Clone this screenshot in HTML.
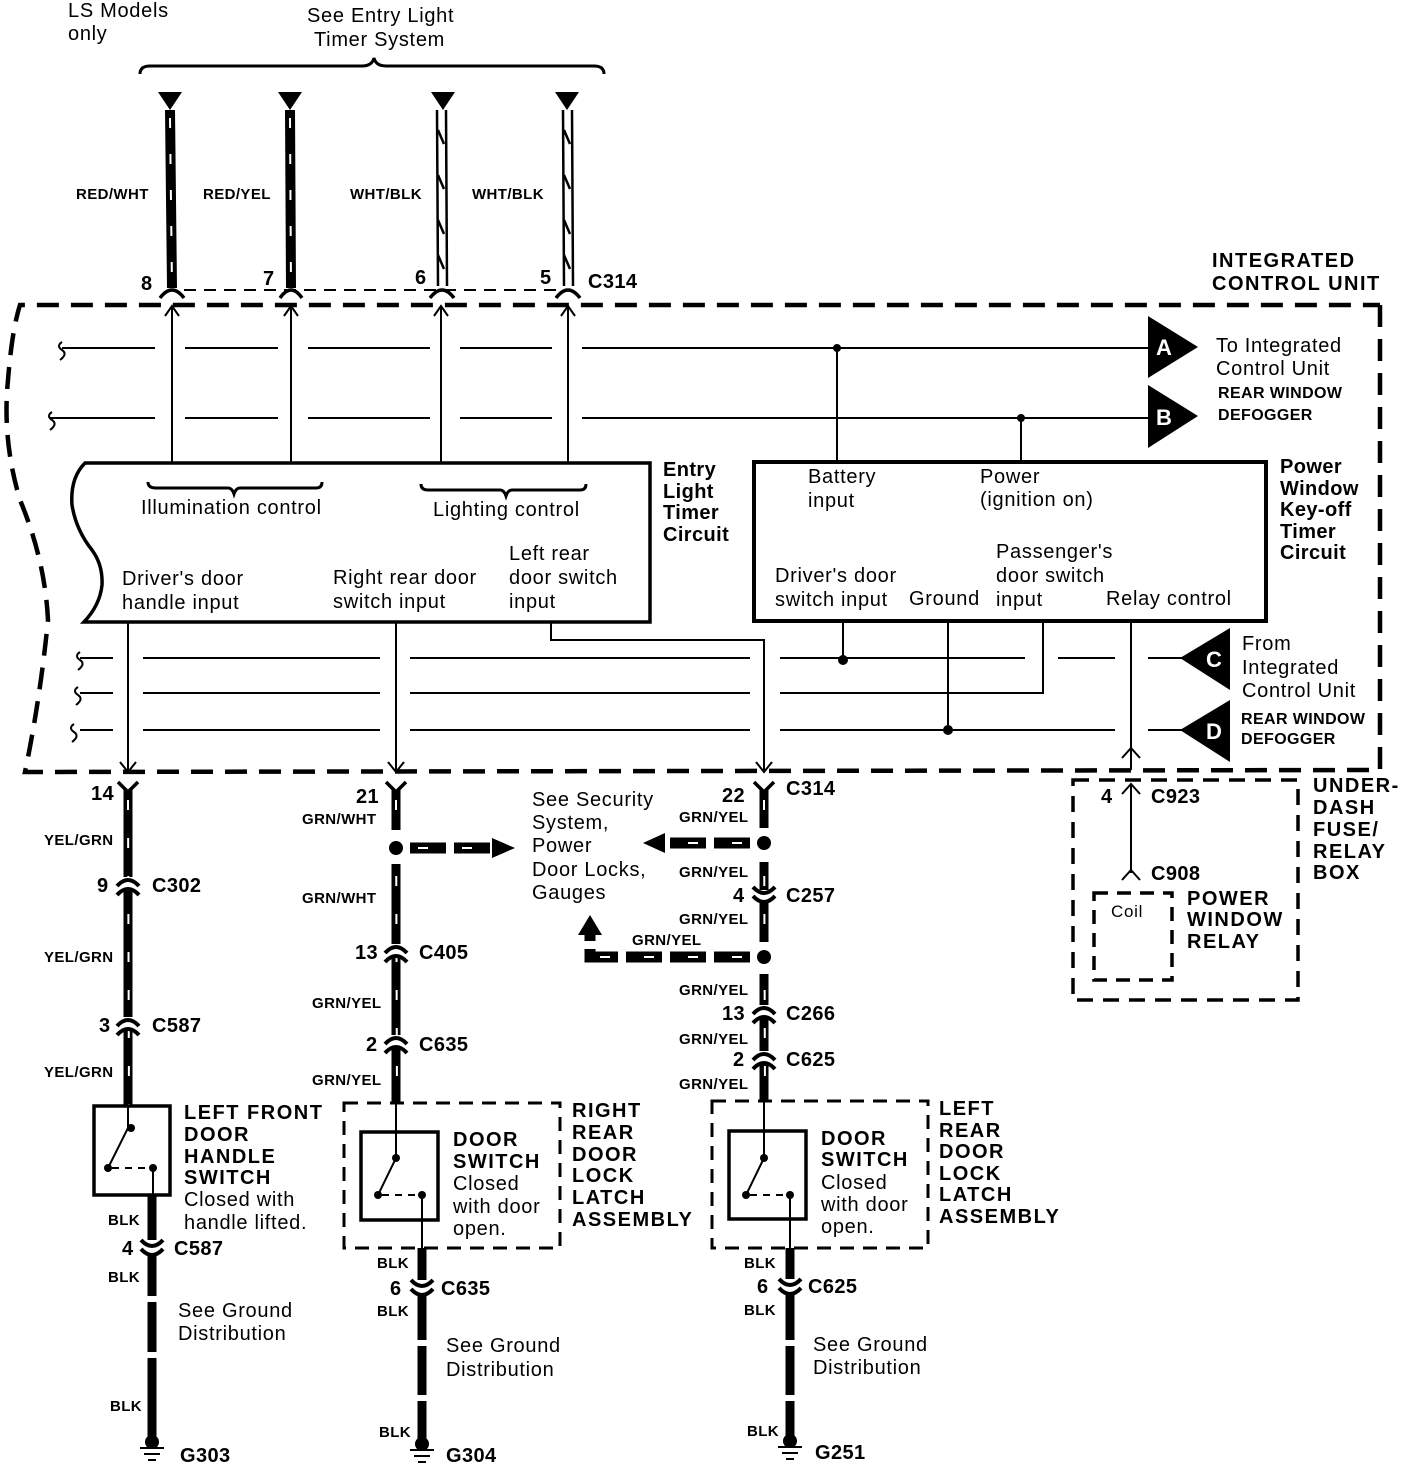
<!DOCTYPE html>
<html><head><meta charset="utf-8"><style>
html,body{margin:0;padding:0;background:#fff}
svg{display:block}
text{font-family:"Liberation Sans",sans-serif;fill:#000}
.r{font-size:20px;letter-spacing:0.7px}
.b{font-size:20px;font-weight:bold;letter-spacing:0.4px}
.w{font-size:15px;font-weight:bold;letter-spacing:0.4px}
.h{font-size:20px;font-weight:bold;letter-spacing:1.5px}
</style></head><body>
<svg width="1408" height="1470" viewBox="0 0 1408 1470" xmlns="http://www.w3.org/2000/svg">
<g fill="none" stroke="#000">
<path d="M140 74 Q140 66 150 66 L362 66 Q372 66 374 58 Q376 66 386 66 L594 66 Q604 66 604 74" stroke-width="3"/>
<line x1="170" y1="110" x2="172" y2="288" stroke-width="10"/>
<line x1="290" y1="110" x2="291" y2="288" stroke-width="10"/>
<line x1="170" y1="118" x2="172" y2="288" stroke="#fff" stroke-width="2" stroke-dasharray="10 26"/>
<line x1="290" y1="118" x2="291" y2="288" stroke="#fff" stroke-width="2" stroke-dasharray="10 26"/>
<path d="M437 110 L438 286 M446 110 L447 286 M563 110 L564 286 M572 110 L573 286" stroke-width="2.5"/>
<path d="M438 130 l6 14 M438 175 l6 14 M438 220 l6 14 M438 255 l6 14 M564 130 l6 14 M564 175 l6 14 M564 220 l6 14 M564 255 l6 14" stroke-width="2.5"/>
<path d="M160 298 Q172 282 184 298 M280 298 Q291 282 302 298 M430 298 Q442 282 454 298 M556 298 Q568 282 580 298" stroke-width="3.5"/>
<line x1="184" y1="290" x2="556" y2="290" stroke-width="2" stroke-dasharray="12 8"/>
<path d="M1380 305 L1380 770 L25 772 Q40 700 48 620 Q45 560 20 500 Q2 440 8 380 Q12 330 20 305 L1380 305" stroke-width="4.5" stroke-dasharray="22 12"/>
<path d="M62 348 H155 M185 348 H278 M308 348 H430 M460 348 H552 M582 348 H1150" stroke-width="2"/>
<path d="M50 418 H155 M185 418 H278 M308 418 H430 M460 418 H552 M582 418 H1150" stroke-width="2"/>
<path d="M62 342 q-6 4 0 8 q6 4 -2 10 M52 412 q-6 4 0 8 q6 4 -2 10" stroke-width="2"/>
<path d="M172 463 V307 M291 463 V307 M441 463 V307 M568 463 V307" stroke-width="2"/>
<path d="M165 316 L172 306 L179 316 M284 316 L291 306 L298 316 M434 316 L441 306 L448 316 M561 316 L568 306 L575 316" stroke-width="2"/>
<path d="M85 463 H650 V622 H84 Q100 605 102 585 Q103 565 92 550 Q76 530 72 505 Q70 478 85 463 Z" stroke-width="3.5"/>
<path d="M148 482 Q148 488 156 488 L228 488 Q232 488 234 494 Q236 488 240 488 L316 488 Q322 488 322 482" stroke-width="3"/>
<path d="M421 484 Q421 490 428 490 L500 490 Q504 490 506 496 Q508 490 512 490 L580 490 Q586 490 586 484" stroke-width="3"/>
<rect x="754" y="462" width="512" height="159" stroke-width="4"/>
<path d="M837 348 V462 M1021 418 V462" stroke-width="2"/>
<path d="M80 658 H113 M143 658 H380 M410 658 H750 M780 658 H1025 M1058 658 H1115 M1148 658 H1182" stroke-width="2"/>
<path d="M80 693 H113 M143 693 H380 M410 693 H750 M780 693 H1043 V622" stroke-width="2"/>
<path d="M80 730 H113 M143 730 H380 M410 730 H750 M780 730 H1115 M1148 730 H1182" stroke-width="2"/>
<path d="M80 652 q-6 4 0 8 q6 4 -2 10 M78 687 q-6 4 0 8 q6 4 -2 10 M74 724 q-6 4 0 8 q6 4 -2 10" stroke-width="2"/>
<path d="M843 622 V660 M948 622 V730 M1131 622 V770" stroke-width="2"/>
<path d="M1122 758 L1131 748 L1140 758" stroke-width="2"/>
<path d="M128 622 V770 M396 622 V770 M551 622 V640 H764 V770" stroke-width="2"/>
<path d="M120 762 L128 772 L136 762 M388 762 L396 772 L404 762 M756 762 L764 772 L772 762" stroke-width="2"/>
<path d="M118 782 L128 792 L138 782 M386 782 L396 792 L406 782 M754 782 L764 792 L774 782" stroke-width="3.5"/>
<line x1="128" y1="790" x2="128" y2="1105" stroke-width="9"/>
<line x1="128" y1="800" x2="129" y2="1105" stroke="#fff" stroke-width="2" stroke-dasharray="10 28"/>
<line x1="396" y1="790" x2="396" y2="1102" stroke-width="9"/>
<line x1="396" y1="800" x2="397" y2="1102" stroke="#fff" stroke-width="2" stroke-dasharray="10 28"/>
<line x1="764" y1="790" x2="764" y2="1100" stroke-width="9"/>
<line x1="764" y1="800" x2="765" y2="1100" stroke="#fff" stroke-width="2" stroke-dasharray="10 28"/>
</g>
<rect x="388" y="830" width="16" height="34" fill="#fff"/>
<rect x="756" y="828" width="16" height="34" fill="#fff"/>
<rect x="756" y="942" width="16" height="32" fill="#fff"/>
<g fill="#000">
<circle cx="396" cy="848" r="7"/><circle cx="764" cy="843" r="7"/><circle cx="764" cy="957" r="7"/>
<circle cx="837" cy="348" r="4"/><circle cx="1021" cy="418" r="4"/><circle cx="843" cy="660" r="5"/><circle cx="948" cy="730" r="5"/>
<polygon points="158,92 182,92 170,110"/><polygon points="278,92 302,92 290,110"/><polygon points="431,92 455,92 443,110"/><polygon points="555,92 579,92 567,110"/>
<polygon points="1148,316 1148,378 1198,347"/><polygon points="1148,385 1148,448 1198,416"/>
<polygon points="1230,628 1230,690 1180,658"/><polygon points="1230,700 1230,762 1180,730"/>
<polygon points="492,838 515,848 492,858"/><polygon points="665,833 643,843 665,853"/><polygon points="578,935 590,915 602,935"/>
</g>
<g fill="none" stroke="#000">
<path d="M410 848 H494 M750 843 H663 M750 957 H590 V933" stroke-width="11" stroke-dasharray="36 8"/>
<path d="M418 848 H494 M742 843 H663 M742 957 H600" stroke="#fff" stroke-width="2" stroke-dasharray="10 34"/>
</g>
<g fill="#fff"><rect x="118" y="877" width="20" height="12"/><rect x="118" y="1017" width="20" height="12"/>
<rect x="386" y="944" width="20" height="12"/><rect x="386" y="1035" width="20" height="12"/>
<rect x="754" y="890" width="20" height="12"/><rect x="754" y="1005" width="20" height="12"/><rect x="754" y="1051" width="20" height="12"/></g>
<g fill="none" stroke="#000" stroke-width="4">
<path d="M117 886 Q128 874 139 886 M117 895 Q128 883 139 895"/>
<path d="M117 1026 Q128 1014 139 1026 M117 1035 Q128 1023 139 1035"/>
<path d="M385 953 Q396 941 407 953 M385 962 Q396 950 407 962"/>
<path d="M385 1044 Q396 1032 407 1044 M385 1053 Q396 1041 407 1053"/>
<path d="M753 1014 Q764 1002 775 1014 M753 1023 Q764 1011 775 1023"/>
<path d="M753 1060 Q764 1048 775 1060 M753 1069 Q764 1057 775 1069"/>
<path d="M753 887 Q764 899 775 887 M753 896 Q764 908 775 896"/>
</g>
<g fill="none" stroke="#000">
<rect x="94" y="1106" width="76" height="89" stroke-width="3.5"/>
<path d="M128 1105 V1128 L108 1168 M153 1168 V1195" stroke-width="2"/>
<path d="M112 1168 H150" stroke-width="2" stroke-dasharray="7 6"/>
<rect x="344" y="1103" width="216" height="145" stroke-width="3" stroke-dasharray="14 9"/>
<rect x="361" y="1132" width="77" height="88" stroke-width="3.5"/>
<path d="M396 1102 V1158 L378 1195 M422 1195 V1248" stroke-width="2"/>
<path d="M382 1195 H420" stroke-width="2" stroke-dasharray="7 6"/>
<rect x="712" y="1101" width="216" height="147" stroke-width="3" stroke-dasharray="14 9"/>
<rect x="729" y="1131" width="77" height="88" stroke-width="3.5"/>
<path d="M764 1100 V1158 L746 1195 M790 1195 V1248" stroke-width="2"/>
<path d="M750 1195 H788" stroke-width="2" stroke-dasharray="7 6"/>
<path d="M152 1195 V1240 M152 1256 V1440" stroke-width="9"/>
<path d="M422 1248 V1280 M422 1296 V1440" stroke-width="9"/>
<path d="M790 1248 V1279 M790 1295 V1440" stroke-width="9"/>
<path d="M141 1240 Q152 1252 163 1240 M141 1249 Q152 1261 163 1249 M411 1280 Q422 1292 433 1280 M411 1289 Q422 1301 433 1289 M779 1279 Q790 1291 801 1279 M779 1288 Q790 1300 801 1288" stroke-width="4"/>
<path d="M140 1448 H164 M144 1454 H160 M148 1460 H156 M410 1450 H434 M414 1456 H430 M418 1462 H426 M778 1447 H802 M782 1453 H798 M786 1459 H794" stroke-width="2"/>
<rect x="1073" y="780" width="225" height="220" stroke-width="3.5" stroke-dasharray="16 10"/>
<rect x="1094" y="893" width="78" height="87" stroke-width="3.5" stroke-dasharray="14 9"/>
<path d="M1131 785 V873" stroke-width="2"/>
<path d="M1122 794 L1131 784 L1140 794 M1122 880 L1131 870 L1140 880" stroke-width="2"/>
</g>
<g fill="#fff"><rect x="145" y="1296" width="14" height="6"/><rect x="145" y="1352" width="14" height="6"/><rect x="415" y="1340" width="14" height="6"/><rect x="415" y="1395" width="14" height="6"/><rect x="783" y="1340" width="14" height="6"/><rect x="783" y="1395" width="14" height="6"/></g>
<g fill="#000"><circle cx="131" cy="1128" r="4"/><circle cx="108" cy="1168" r="4"/><circle cx="153" cy="1168" r="4"/>
<circle cx="396" cy="1158" r="4"/><circle cx="378" cy="1195" r="4"/><circle cx="422" cy="1195" r="4"/>
<circle cx="764" cy="1158" r="4"/><circle cx="746" cy="1195" r="4"/><circle cx="790" cy="1195" r="4"/>
<circle cx="152" cy="1442" r="7"/><circle cx="422" cy="1444" r="7"/><circle cx="790" cy="1441" r="7"/></g>

<text class="r" x="68" y="17">LS Models</text><text class="r" x="68" y="40">only</text>
<text class="r" x="307" y="22">See Entry Light</text><text class="r" x="314" y="46">Timer System</text>
<text class="w" x="76" y="199">RED/WHT</text><text class="w" x="203" y="199">RED/YEL</text><text class="w" x="350" y="199">WHT/BLK</text><text class="w" x="472" y="199">WHT/BLK</text>
<text class="b" x="141" y="290">8</text><text class="b" x="263" y="285">7</text><text class="b" x="415" y="284">6</text><text class="b" x="540" y="284">5</text><text class="b" x="588" y="288">C314</text>
<text class="h" x="1212" y="267">INTEGRATED</text><text class="h" x="1212" y="290">CONTROL UNIT</text>
<text class="r" x="1216" y="352">To Integrated</text><text class="r" x="1216" y="375">Control Unit</text>
<text class="w" style="font-size:16px" x="1218" y="398">REAR WINDOW</text><text class="w" style="font-size:16px" x="1218" y="420">DEFOGGER</text>
<text style="font-size:22px;font-weight:bold;fill:#fff" x="1156" y="355">A</text><text style="font-size:22px;font-weight:bold;fill:#fff" x="1156" y="425">B</text>
<text style="font-size:22px;font-weight:bold;fill:#fff" x="1206" y="667">C</text><text style="font-size:22px;font-weight:bold;fill:#fff" x="1206" y="739">D</text>
<text class="r" x="141" y="514">Illumination control</text><text class="r" x="433" y="516">Lighting control</text>
<text class="r" x="122" y="585">Driver's door</text><text class="r" x="122" y="609">handle input</text>
<text class="r" x="333" y="584">Right rear door</text><text class="r" x="333" y="608">switch input</text>
<text class="r" x="509" y="560">Left rear</text><text class="r" x="509" y="584">door switch</text><text class="r" x="509" y="608">input</text>
<text class="b" x="663" y="476">Entry</text><text class="b" x="663" y="498">Light</text><text class="b" x="663" y="519">Timer</text><text class="b" x="663" y="541">Circuit</text>
<text class="r" x="808" y="483">Battery</text><text class="r" x="808" y="507">input</text>
<text class="r" x="980" y="483">Power</text><text class="r" x="980" y="506">(ignition on)</text>
<text class="r" x="996" y="558">Passenger's</text><text class="r" x="996" y="582">door switch</text><text class="r" x="996" y="606">input</text>
<text class="r" x="775" y="582">Driver's door</text><text class="r" x="775" y="606">switch input</text>
<text class="r" x="909" y="605">Ground</text><text class="r" x="1106" y="605">Relay control</text>
<text class="b" x="1280" y="473">Power</text><text class="b" x="1280" y="495">Window</text><text class="b" x="1280" y="516">Key-off</text><text class="b" x="1280" y="538">Timer</text><text class="b" x="1280" y="559">Circuit</text>
<text class="r" x="1242" y="650">From</text><text class="r" x="1242" y="674">Integrated</text><text class="r" x="1242" y="697">Control Unit</text>
<text class="w" style="font-size:16px" x="1241" y="724">REAR WINDOW</text><text class="w" style="font-size:16px" x="1241" y="744">DEFOGGER</text>

<text class="b" x="91" y="800">14</text><text class="w" x="44" y="845">YEL/GRN</text>
<text class="b" x="97" y="892">9</text><text class="b" x="152" y="892">C302</text><text class="w" x="44" y="962">YEL/GRN</text>
<text class="b" x="99" y="1032">3</text><text class="b" x="152" y="1032">C587</text><text class="w" x="44" y="1077">YEL/GRN</text>
<text class="h" x="184" y="1119">LEFT FRONT</text><text class="h" x="184" y="1141">DOOR</text><text class="h" x="184" y="1163">HANDLE</text><text class="h" x="184" y="1184">SWITCH</text>
<text class="r" x="184" y="1206">Closed with</text><text class="r" x="184" y="1229">handle lifted.</text>
<text class="w" x="108" y="1225">BLK</text><text class="b" x="122" y="1255">4</text><text class="b" x="174" y="1255">C587</text><text class="w" x="108" y="1282">BLK</text>
<text class="r" x="178" y="1317">See Ground</text><text class="r" x="178" y="1340">Distribution</text><text class="w" x="110" y="1411">BLK</text><text class="b" x="180" y="1462">G303</text>

<text class="b" x="356" y="803">21</text><text class="w" x="302" y="824">GRN/WHT</text><text class="w" x="302" y="903">GRN/WHT</text>
<text class="b" x="355" y="959">13</text><text class="b" x="419" y="959">C405</text><text class="w" x="312" y="1008">GRN/YEL</text>
<text class="b" x="366" y="1051">2</text><text class="b" x="419" y="1051">C635</text><text class="w" x="312" y="1085">GRN/YEL</text>
<text class="h" x="453" y="1146">DOOR</text><text class="h" x="453" y="1168">SWITCH</text>
<text class="r" x="453" y="1190">Closed</text><text class="r" x="453" y="1213">with door</text><text class="r" x="453" y="1235">open.</text>
<text class="h" x="572" y="1117">RIGHT</text><text class="h" x="572" y="1139">REAR</text><text class="h" x="572" y="1161">DOOR</text><text class="h" x="572" y="1182">LOCK</text><text class="h" x="572" y="1204">LATCH</text><text class="h" x="572" y="1226">ASSEMBLY</text>
<text class="w" x="377" y="1268">BLK</text><text class="b" x="390" y="1295">6</text><text class="b" x="441" y="1295">C635</text><text class="w" x="377" y="1316">BLK</text>
<text class="r" x="446" y="1352">See Ground</text><text class="r" x="446" y="1376">Distribution</text><text class="w" x="379" y="1437">BLK</text><text class="b" x="446" y="1462">G304</text>

<text class="r" x="532" y="806">See Security</text><text class="r" x="532" y="829">System,</text><text class="r" x="532" y="852">Power</text><text class="r" x="532" y="876">Door Locks,</text><text class="r" x="532" y="899">Gauges</text>

<text class="b" x="722" y="802">22</text><text class="b" x="786" y="795">C314</text><text class="w" x="679" y="822">GRN/YEL</text><text class="w" x="679" y="877">GRN/YEL</text>
<text class="b" x="733" y="902">4</text><text class="b" x="786" y="902">C257</text><text class="w" x="679" y="924">GRN/YEL</text><text class="w" x="632" y="945">GRN/YEL</text>
<text class="w" x="679" y="995">GRN/YEL</text><text class="b" x="722" y="1020">13</text><text class="b" x="786" y="1020">C266</text><text class="w" x="679" y="1044">GRN/YEL</text>
<text class="b" x="733" y="1066">2</text><text class="b" x="786" y="1066">C625</text><text class="w" x="679" y="1089">GRN/YEL</text>
<text class="h" x="821" y="1145">DOOR</text><text class="h" x="821" y="1166">SWITCH</text>
<text class="r" x="821" y="1189">Closed</text><text class="r" x="821" y="1211">with door</text><text class="r" x="821" y="1233">open.</text>
<text class="h" x="939" y="1115">LEFT</text><text class="h" x="939" y="1137">REAR</text><text class="h" x="939" y="1158">DOOR</text><text class="h" x="939" y="1180">LOCK</text><text class="h" x="939" y="1201">LATCH</text><text class="h" x="939" y="1223">ASSEMBLY</text>
<text class="w" x="744" y="1268">BLK</text><text class="b" x="757" y="1293">6</text><text class="b" x="808" y="1293">C625</text><text class="w" x="744" y="1315">BLK</text>
<text class="r" x="813" y="1351">See Ground</text><text class="r" x="813" y="1374">Distribution</text><text class="w" x="747" y="1436">BLK</text><text class="b" x="815" y="1459">G251</text>

<text class="b" x="1101" y="803">4</text><text class="b" x="1151" y="803">C923</text><text class="b" x="1151" y="880">C908</text>
<text class="r" style="font-size:17px" x="1111" y="917">Coil</text>
<text class="h" x="1187" y="905">POWER</text><text class="h" x="1187" y="926">WINDOW</text><text class="h" x="1187" y="948">RELAY</text>
<text class="h" x="1313" y="792">UNDER-</text><text class="h" x="1313" y="814">DASH</text><text class="h" x="1313" y="836">FUSE/</text><text class="h" x="1313" y="858">RELAY</text><text class="h" x="1313" y="879">BOX</text>
</svg>
</body></html>
